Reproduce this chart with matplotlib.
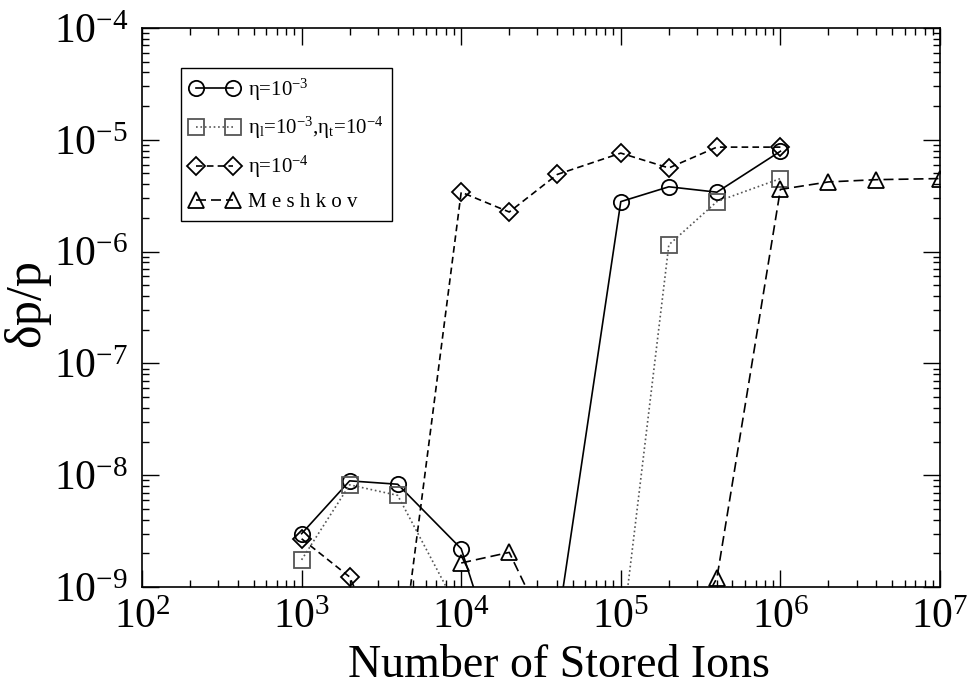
import matplotlib
matplotlib.use("Agg")
import matplotlib.pyplot as plt
from matplotlib.ticker import LogLocator, NullFormatter

plt.rcParams["font.family"] = "Liberation Serif"
plt.rcParams["mathtext.fontset"] = "custom"
plt.rcParams["mathtext.rm"] = "Liberation Serif"
plt.rcParams["mathtext.it"] = "Liberation Serif:italic"
plt.rcParams["mathtext.default"] = "rm"

# eta = 1e-3
circ_x = [1e3, 2e3, 4e3, 1e4, 2e4, 4e4, 1e5, 2e5, 4e5, 1e6]
circ_y = [3.0e-9, 8.9e-9, 8.3e-9, 2.2e-9, 1.0e-10, 4.4e-10, 2.8e-6, 3.8e-6, 3.4e-6, 7.9e-6]

# eta_l = 1e-3, eta_t = 1e-4
sq_x = [1e3, 2e3, 4e3, 1e4, 2e4, 4e4, 1e5, 2e5, 4e5, 1e6]
sq_y = [1.75e-9, 8.2e-9, 6.6e-9, 5.6e-10, 4.0e-10, 3.0e-10, 3.0e-10, 1.15e-6, 2.8e-6, 4.5e-6]

# eta = 1e-4
dia_x = [1e3, 2e3, 4e3, 1e4, 2e4, 4e4, 1e5, 2e5, 4e5, 1e6]
dia_y = [2.7e-9, 1.23e-9, 1.3e-10, 3.4e-6, 2.26e-6, 4.9e-6, 7.6e-6, 5.6e-6, 8.6e-6, 8.6e-6]

# Meshkov
tri_x = [1e4, 2e4, 4e4, 1e5, 2e5, 4e5, 1e6, 2e6, 4e6, 1e7]
tri_y = [1.64e-9, 2.04e-9, 2.6e-10, 2.0e-10, 2.0e-10, 1.2e-9, 3.6e-6, 4.2e-6, 4.4e-6, 4.5e-6]

x_ticks = [1e2, 1e3, 1e4, 1e5, 1e6, 1e7]
y_ticks = [1e-9, 1e-8, 1e-7, 1e-6, 1e-5, 1e-4]

labels = [
    r"$\eta$=10$^{-3}$",
    r"$\eta_{l}$=10$^{-3}$,$\eta_{t}$=10$^{-4}$",
    r"$\eta$=10$^{-4}$",
    "M e s h k o v",
]

fig = plt.figure(figsize=(9.68, 6.9), dpi=100)
ax = fig.add_axes([142 / 968, (690 - 587) / 690, 798 / 968, 559 / 690])

mk = dict(markersize=11, markerfacecolor="none", markeredgewidth=1.3, linewidth=1.2)
ax.plot(circ_x, circ_y, color="black", linestyle="-", marker="o", label=labels[0], **mk)
ax.plot(sq_x, sq_y, color="#555555", linestyle=":", marker="s", label=labels[1], **mk)
ax.plot(dia_x, dia_y, color="black", linestyle=(0, (4, 2.5)), marker="D",
        label=labels[2], markersize=9, markerfacecolor="none", markeredgewidth=1.3, linewidth=1.2)
ax.plot(tri_x, tri_y, color="black", linestyle=(0, (6, 3)), marker="^", label=labels[3], **mk)

ax.set_xscale("log")
ax.set_yscale("log")
ax.set_xlim(x_ticks[0], x_ticks[-1])
ax.set_ylim(y_ticks[0], y_ticks[-1])
ax.set_xticks(x_ticks)
ax.set_yticks(y_ticks)
ax.xaxis.set_minor_locator(LogLocator(base=10, subs=range(2, 10), numticks=12))
ax.yaxis.set_minor_locator(LogLocator(base=10, subs=range(2, 10), numticks=12))
ax.xaxis.set_minor_formatter(NullFormatter())
ax.yaxis.set_minor_formatter(NullFormatter())

ax.tick_params(which="both", direction="in", top=True, right=True, width=1.0)
ax.tick_params(which="major", length=12, labelsize=30)
ax.tick_params(axis="x", which="major", pad=8)
ax.tick_params(axis="y", which="major", pad=10)
ax.tick_params(which="minor", length=5)
for s in ax.spines.values():
    s.set_linewidth(1.2)

fig.text(559 / 968, 1 - 677 / 690, "Number of Stored Ions", fontsize=33,
         ha="center", va="baseline")
fig.text(29 / 968, 1 - 305 / 690, r"$\delta$p/p", fontsize=36, rotation=90,
         ha="center", va="center")

leg = ax.legend(loc="upper left", bbox_to_anchor=(0.049, 0.928), borderaxespad=0,
                fontsize=15, numpoints=2, handlelength=2.4, fancybox=False,
                edgecolor="black", framealpha=1, labelspacing=0.6, handletextpad=0.4,
                borderpad=0.4)
leg.get_frame().set_linewidth(1.0)

fig.savefig("out.png", dpi=100)
